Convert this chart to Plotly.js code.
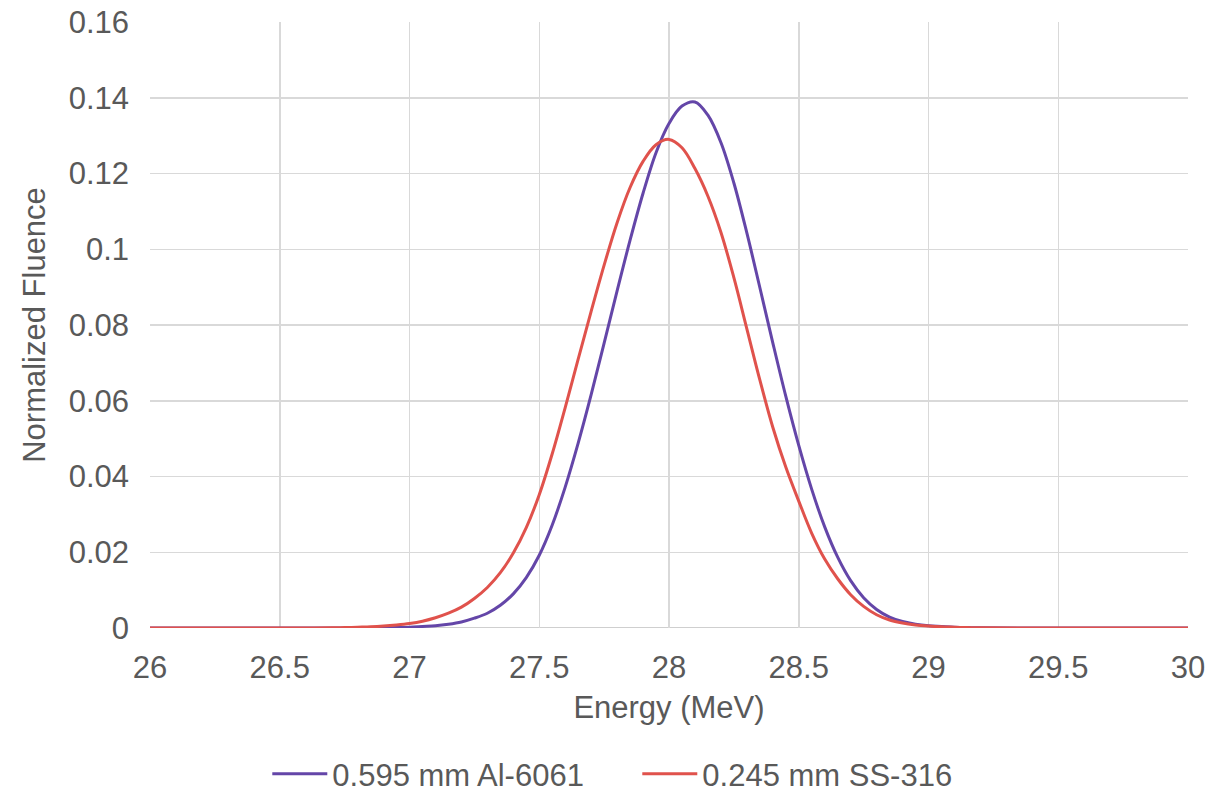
<!DOCTYPE html>
<html>
<head>
<meta charset="utf-8">
<script src="https://cdn.plot.ly/plotly-3.0.1.min.js"></script>
<style>
html,body{margin:0;padding:0;background:#fff;}
#chart{width:1221px;height:801px;}
</style>
</head>
<body>
<div id="chart"></div>
<script>
// Energy (MeV) and normalized fluence
const energyAl = [26.0,26.5,26.8,26.85,26.9,26.95,27.0,27.05,27.1,27.15,27.2,27.25,27.3,27.35,27.4,27.45,27.5,27.55,27.6,27.65,27.7,27.75,27.8,27.85,27.9,27.95,28.0,28.05,28.1,28.15,28.2,28.25,28.3,28.35,28.4,28.45,28.5,28.55,28.6,28.65,28.7,28.75,28.8,28.85,28.9,28.95,29.0,29.05,29.1,29.15,29.2,29.5,30.0];
const fluenceAl = [0,0,0,0.00002,0.00005,0.0001,0.0002,0.0004,0.0006,0.0010,0.0016,0.0026,0.0039,0.0060,0.0090,0.0133,0.0192,0.0272,0.0372,0.0488,0.0616,0.0752,0.0890,0.1024,0.1148,0.1255,0.1332,0.1378,0.1389,0.1354,0.1282,0.1175,0.1043,0.0899,0.0753,0.0612,0.0482,0.0366,0.0267,0.0187,0.0125,0.0080,0.0049,0.0029,0.0017,0.0010,0.0006,0.0004,0.0002,0.0001,0.00005,0,0];

const energySS = [26.0,26.5,26.6,26.7,26.75,26.8,26.85,26.9,26.95,27.0,27.05,27.1,27.15,27.2,27.25,27.3,27.35,27.4,27.45,27.5,27.55,27.6,27.65,27.7,27.75,27.8,27.85,27.9,27.95,28.0,28.05,28.1,28.15,28.2,28.25,28.3,28.35,28.4,28.45,28.5,28.55,28.6,28.65,28.7,28.75,28.8,28.85,28.9,28.95,29.0,29.05,29.1,29.15,29.2,29.5,30.0];
const fluenceSS = [0,0,0.00002,0.00005,0.0001,0.0002,0.0003,0.0005,0.0008,0.0012,0.0018,0.0027,0.0039,0.0055,0.0078,0.0107,0.0146,0.0198,0.0265,0.0352,0.0460,0.0582,0.0710,0.0836,0.0958,0.1070,0.1163,0.1232,0.1276,0.1290,0.1268,0.1213,0.1140,0.1045,0.0925,0.0790,0.0655,0.0530,0.0425,0.0335,0.0250,0.0182,0.0130,0.0088,0.0057,0.0035,0.0021,0.0013,0.0008,0.0005,0.0003,0.0002,0.0001,0.00005,0,0];

const seriesNames = ["0.595 mm Al-6061", "0.245 mm SS-316"];
const xTickVals = [26,26.5,27,27.5,28,28.5,29,29.5,30];
const xTickText = ["26","26.5","27","27.5","28","28.5","29","29.5","30"];
const yTickVals = [0,0.02,0.04,0.06,0.08,0.1,0.12,0.14,0.16];
const yTickText = ["0","0.02","0.04","0.06","0.08","0.1","0.12","0.14","0.16"];

const FONT = "Arial, 'Liberation Sans', sans-serif";
const TXT = "#595959";
const FS = 31;

const traces = [
  {x: energyAl, y: fluenceAl, name: seriesNames[0], type: "scatter", mode: "lines",
   line: {color: "#6446a8", width: 3, shape: "spline", smoothing: 1}},
  {x: energySS, y: fluenceSS, name: seriesNames[1], type: "scatter", mode: "lines",
   line: {color: "#e0524c", width: 3, shape: "spline", smoothing: 1}}
];

const layout = {
  width: 1221, height: 801,
  margin: {l: 150, r: 33, t: 22, b: 173},
  paper_bgcolor: "#ffffff", plot_bgcolor: "#ffffff",
  font: {family: FONT, color: TXT, size: FS},
  showlegend: true,
  legend: {orientation: "h", xref: "paper", x: 0.113, xanchor: "left",
           yref: "container", y: 0, yanchor: "bottom",
           font: {family: FONT, color: TXT, size: FS}, entrywidth: 300, entrywidthmode: "pixels",
           itemwidth: 55, tracegroupgap: 0, bgcolor: "rgba(0,0,0,0)"},
  xaxis: {
    range: [26, 30], tickmode: "array", tickvals: xTickVals, ticktext: xTickText,
    showgrid: true, gridcolor: "#d9d9d9", gridwidth: 1.5,
    zeroline: false, showline: false, ticks: "", ticklabelstandoff: 18,
    tickfont: {family: FONT, color: TXT, size: FS},
    title: {text: "Energy (MeV)", font: {family: FONT, color: TXT, size: FS}, standoff: 12}
  },
  yaxis: {
    range: [0, 0.16], tickmode: "array", tickvals: yTickVals, ticktext: yTickText,
    showgrid: true, gridcolor: "#d9d9d9", gridwidth: 1.5,
    zeroline: false, showline: false, ticks: "", ticklabelstandoff: 20,
    tickfont: {family: FONT, color: TXT, size: FS},
    title: {text: "Normalized Fluence", font: {family: FONT, color: TXT, size: FS}, standoff: 13}
  },
  shapes: [
    {type: "line", xref: "paper", yref: "y", x0: 0, x1: 1, y0: 0, y1: 0,
     line: {color: "#bfbfbf", width: 1.5}, layer: "below"}
  ]
};

Plotly.newPlot("chart", traces, layout, {displayModeBar: false, staticPlot: true});
</script>
</body>
</html>
